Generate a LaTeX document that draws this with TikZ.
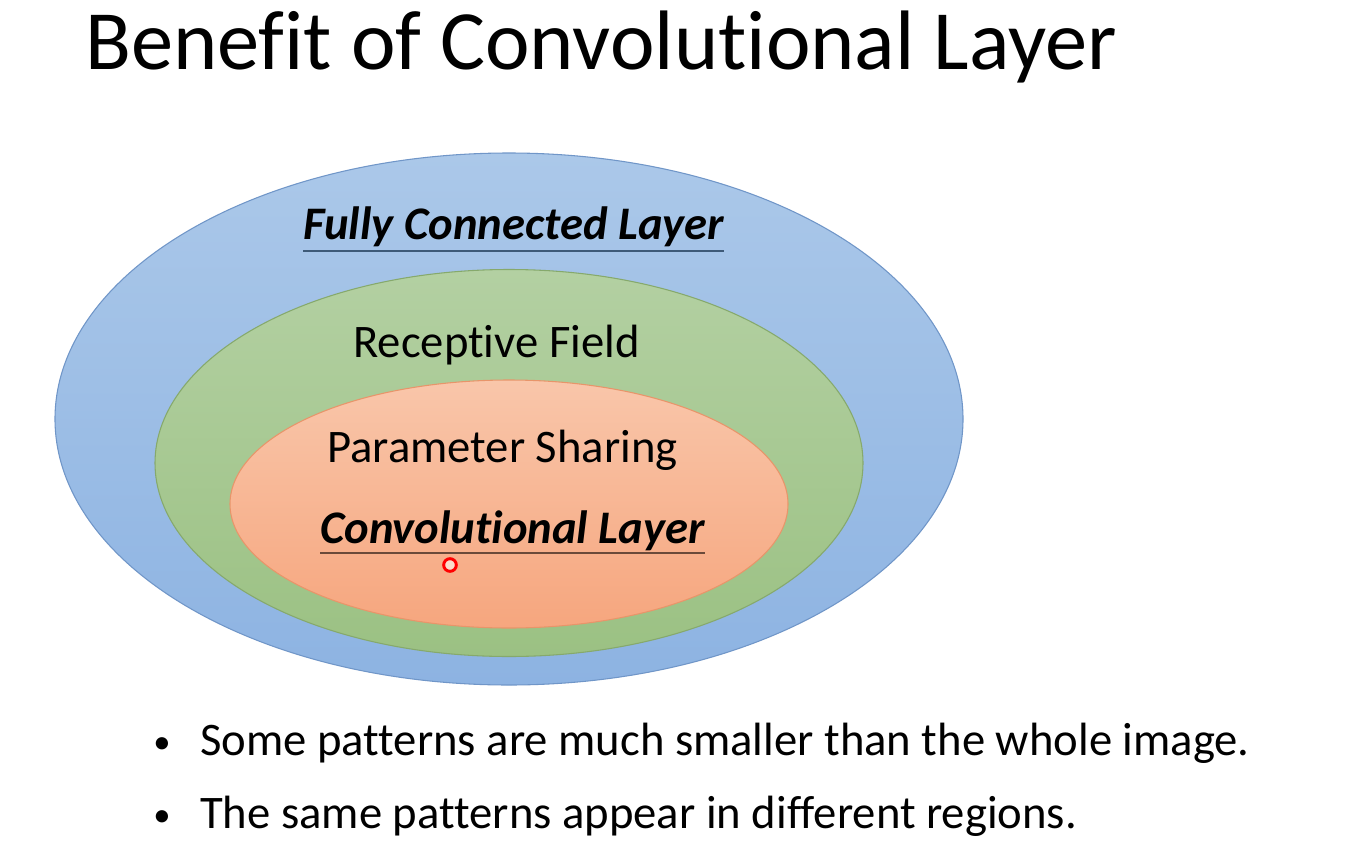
\documentclass[tikz,border=0pt]{standalone}
\usepackage{fontspec}
\setmainfont[Ligatures={NoCommon}]{Carlito}
\usetikzlibrary{shapes.geometric}
\definecolor{bluetop}{HTML}{ABC8E9}
\definecolor{bluebot}{HTML}{8DB3E2}
\definecolor{blueline}{HTML}{7096C8}
\definecolor{greentop}{HTML}{B3D0A2}
\definecolor{greenbot}{HTML}{9BC183}
\definecolor{greenline}{HTML}{86A96C}
\definecolor{orangetop}{HTML}{F9C6AA}
\definecolor{orangebot}{HTML}{F6A67E}
\definecolor{orangeline}{HTML}{E8956A}
\definecolor{ulblue}{HTML}{3E5A78}
\definecolor{ulbrown}{HTML}{6B4A3A}
\tikzset{
  ring/.style={ellipse, inner sep=0pt, line width=0.8pt},
  lbl/.style={anchor=base west, inner sep=0pt, font=\fontsize{35}{42}\selectfont},
  blbl/.style={lbl, font=\fontsize{35}{42}\selectfont\bfseries\itshape},
  bullettext/.style={anchor=base west, inner sep=0pt, font=\fontsize{35}{42}\selectfont},
  bulletdot/.style={anchor=base, inner sep=0pt, font=\fontsize{26}{30}\selectfont},
  uline/.style={line width=1.4pt}
}
\begin{document}
\begin{tikzpicture}[x=0.75pt,y=-0.75pt]
\useasboundingbox (0,0) rectangle (1364,850);
\fill[white] (0,0) rectangle (1364,850);
% title
\node[anchor=base west, inner sep=0pt, font=\fontsize{63.3}{75}\selectfont] (title) at (85,69) {Benefit of Convolutional Layer};
% ellipses
\node[ring, draw=blueline, top color=bluetop, bottom color=bluebot, minimum width=908*0.75pt, minimum height=532*0.75pt] (fc) at (509,419) {};
\node[ring, draw=greenline, top color=greentop, bottom color=greenbot, minimum width=708*0.75pt, minimum height=387*0.75pt] (rf) at (509,463) {};
\node[ring, draw=orangeline, top color=orangetop, bottom color=orangebot, minimum width=558*0.75pt, minimum height=248*0.75pt] (ps) at (509,504) {};
% labels
\node[blbl] (fcl) at (303,239) {Fully Connected Layer};
\draw[uline, ulblue] (fcl.base west |- 0,251) -- (fcl.base east |- 0,251);
\node[lbl] (rfl) at (353,357) {Receptive Field};
\node[lbl] (psl) at (327,462) {Parameter Sharing};
\node[blbl] (cvl) at (320,543) {Convolutional Layer};
\draw[uline, ulbrown] (cvl.base west |- 0,553) -- (cvl.base east |- 0,553);
% pointer
\node[circle, draw=red, line width=2.2pt, fill=orangetop!60!white, inner sep=0pt, minimum size=9.5pt] (ptr) at (450,565) {};
% bullets
\node[bulletdot] (b1) at (162,753) {\textbullet};
\node[bullettext] (t1) at (200,755) {Some patterns are much smaller than the whole image.};
\node[bulletdot] (b2) at (162,826) {\textbullet};
\node[bullettext] (t2) at (200,828) {The same patterns appear in different regions.};
\end{tikzpicture}
\end{document}
